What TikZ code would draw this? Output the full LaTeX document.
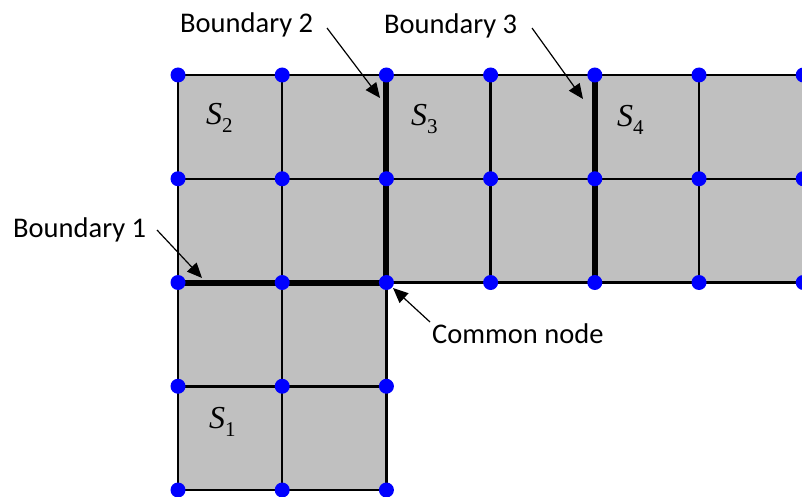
\documentclass[tikz,border=0pt]{standalone}
\usepackage{fontspec}
\setmainfont{Carlito}
\newfontfamily\subfont{Liberation Serif}
\usetikzlibrary{arrows.meta}
\definecolor{meshgray}{RGB}{192,192,192}
\newcommand{\region}[2]{{\subfont\fontsize{32}{32}\selectfont\itshape #1\upshape\raisebox{-8pt}{\fontsize{21}{21}\selectfont #2}}}
\begin{document}
\begin{tikzpicture}[x=1pt,y=-1pt,
  dot/.style={circle,fill=blue,draw=none,inner sep=0pt,minimum size=15pt},
  gridline/.style={line width=2.5pt,black},
  bnd/.style={line width=6pt,black},
  lbl/.style={font=\fontsize{28.5}{30}\selectfont,inner sep=0pt,anchor=base west},
  sublbl/.style={inner sep=0pt,anchor=base west},
  callout/.style={line width=1.2pt,black,-{Triangle[length=15pt,width=13pt]}}]
\useasboundingbox (0,0) rectangle (802,497);

% mesh points: column i, row j
\foreach \i in {0,...,6}{\foreach \j in {0,...,4}{
  \coordinate (p-\i-\j) at ({178+104.2*\i},{75+103.75*\j});}}

% shaded subdomains
\fill[meshgray] (p-0-0) rectangle (p-6-2);
\fill[meshgray] (p-0-2) rectangle (p-2-4);

% mesh lines
\foreach \j in {0,1,2}{\draw[gridline] (p-0-\j) -- (p-6-\j);}
\foreach \j in {3,4}{\draw[gridline] (p-0-\j) -- (p-2-\j);}
\foreach \i in {0,1,2}{\draw[gridline] (p-\i-0) -- (p-\i-4);}
\foreach \i in {3,...,6}{\draw[gridline] (p-\i-0) -- (p-\i-2);}

% interface boundaries
\draw[bnd] (p-0-2) -- (p-2-2);
\draw[bnd] (p-2-0) -- (p-2-2);
\draw[bnd] (p-4-0) -- (p-4-2);

% nodes
\foreach \i in {0,...,6}{\foreach \j in {0,1,2}{\node[dot] (d-\i-\j) at (p-\i-\j) {};}}
\foreach \i in {0,1,2}{\foreach \j in {3,4}{\node[dot] (d-\i-\j) at (p-\i-\j) {};}}

% subdomain labels
\node[sublbl] (s2) at (206,125) {\region{S}{2}};
\node[sublbl] (s3) at (411,126) {\region{S}{3}};
\node[sublbl] (s4) at (617,127) {\region{S}{4}};
\node[sublbl] (s1) at (209,428) {\region{S}{1}};

% callouts
\node[lbl] (b2) at (180,33) {Boundary 2};
\node[lbl] (b3) at (384,34) {Boundary 3};
\node[lbl] (b1) at (13,237) {Boundary 1};
\node[lbl] (cn) at (432,343) {Common node};

\coordinate (b2s) at (327,28);  \coordinate (b2t) at (380,98);
\coordinate (b3s) at (532,28);  \coordinate (b3t) at (583,99);
\coordinate (b1s) at (157,230); \coordinate (b1t) at (202,278);
\coordinate (cns) at (430,322); \coordinate (cnt) at (393,288);
\draw[callout] (b2s) -- (b2t);
\draw[callout] (b3s) -- (b3t);
\draw[callout] (b1s) -- (b1t);
\draw[callout] (cns) -- (cnt);
\end{tikzpicture}
\end{document}
